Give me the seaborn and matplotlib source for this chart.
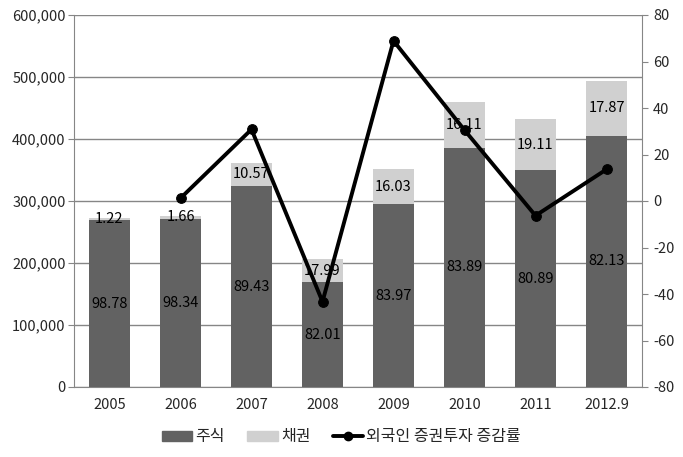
import numpy as np
import pandas as pd
import matplotlib
matplotlib.use("Agg")
import matplotlib.pyplot as plt
import seaborn as sns
from matplotlib.ticker import FuncFormatter
from matplotlib.patches import Patch
from matplotlib.lines import Line2D

# 데이터
years = ["2005", "2006", "2007", "2008", "2009", "2010", "2011", "2012.9"]
total = [272000, 276000, 362000, 206000, 351000, 460000, 432000, 493500]
stock_share = [98.78, 98.34, 89.43, 82.01, 83.97, 83.89, 80.89, 82.13]
bond_share = [1.22, 1.66, 10.57, 17.99, 16.03, 16.11, 19.11, 17.87]
growth = [np.nan, 1.2, 30.8, -43.3, 68.9, 30.5, -6.3, 13.6]

DARK = "#626262"
LIGHT = "#d0d0d0"
GRID = "#868686"

sns.set_style("white")
plt.rcParams['font.family'] = ['Noto Sans CJK KR', 'DejaVu Sans']
plt.rcParams['axes.unicode_minus'] = False

df = pd.DataFrame({"year": years, "total": total,
                   "stock_share": stock_share, "bond_share": bond_share,
                   "growth": growth})
df["stock"] = df["total"] * df["stock_share"] / 100

fig = plt.figure(figsize=(6.83, 4.57), dpi=100)
ax = fig.add_axes([74 / 683, 1 - 387 / 457, (642 - 74) / 683, (387 - 15) / 457])

sns.barplot(data=df, x="year", y="total", color=LIGHT, width=0.58,
            saturation=1, ax=ax, zorder=2, linewidth=0)
sns.barplot(data=df, x="year", y="stock", color=DARK, width=0.58,
            saturation=1, ax=ax, zorder=3, linewidth=0)

# 막대 라벨
for i, row in df.iterrows():
    ax.text(i, row["stock"] / 2, f"{row['stock_share']:.2f}", ha="center",
            va="center", fontsize=10.5, color="black", zorder=5)
    ax.text(i, row["stock"] + (row["total"] - row["stock"]) / 2,
            f"{row['bond_share']:.2f}", ha="center", va="center",
            fontsize=10.5, color="black", zorder=5)

ax.set_ylim(0, 600000)
ax.set_yticks(np.arange(0, 600001, 100000))
ax.yaxis.set_major_formatter(FuncFormatter(lambda v, p: f"{v:,.0f}"))
ax.set_xlim(-0.5, len(years) - 0.5)
ax.set_xlabel("")
ax.set_ylabel("")
ax.yaxis.grid(True, color=GRID, linewidth=1)
ax.set_axisbelow(True)
ax.set_xticks(np.arange(-0.5, len(years), 1), minor=False)
ax.set_xticklabels([])
ax.set_xticks(np.arange(len(years)), minor=True)
ax.set_xticklabels(years, minor=True)
ax.tick_params(axis="x", which="major", length=4, color=GRID, direction="out")
ax.tick_params(axis="x", which="minor", length=0, labelsize=10.5, pad=8)
ax.tick_params(axis="y", length=4, color=GRID, direction="out", labelsize=10.5, pad=2)
ax.spines["top"].set_visible(False)
ax.spines["right"].set_visible(False)
for s in ["left", "bottom"]:
    ax.spines[s].set_color(GRID)

# 증감률 선
ax2 = ax.twinx()
sns.lineplot(x=np.arange(len(years)), y=df["growth"], ax=ax2, color="black",
             linewidth=2.8, marker="o", markersize=7, markeredgecolor="black",
             zorder=6)
ax2.set_ylim(-80, 80)
ax2.set_yticks(np.arange(-80, 81, 20))
ax2.set_ylabel("")
ax2.tick_params(axis="y", length=4, color=GRID, direction="out", labelsize=10.5, pad=4)
ax2.spines["top"].set_visible(False)
ax2.spines["left"].set_visible(False)
ax2.spines["bottom"].set_visible(False)
ax2.spines["right"].set_color(GRID)

handles = [Patch(color=DARK), Patch(color=LIGHT),
           Line2D([0], [0], color="black", linewidth=2.8, marker="o", markersize=6)]
labels = ["주식", "채권", "외국인 증권투자 증감률"]
fig.legend(handles, labels, loc="center", bbox_to_anchor=(0.5, 1 - 437 / 457),
           ncol=3, frameon=False, fontsize=11.5, handlelength=1.9,
           handleheight=0.6, columnspacing=1.4, handletextpad=0.2)

fig.savefig("out.png", dpi=100)
